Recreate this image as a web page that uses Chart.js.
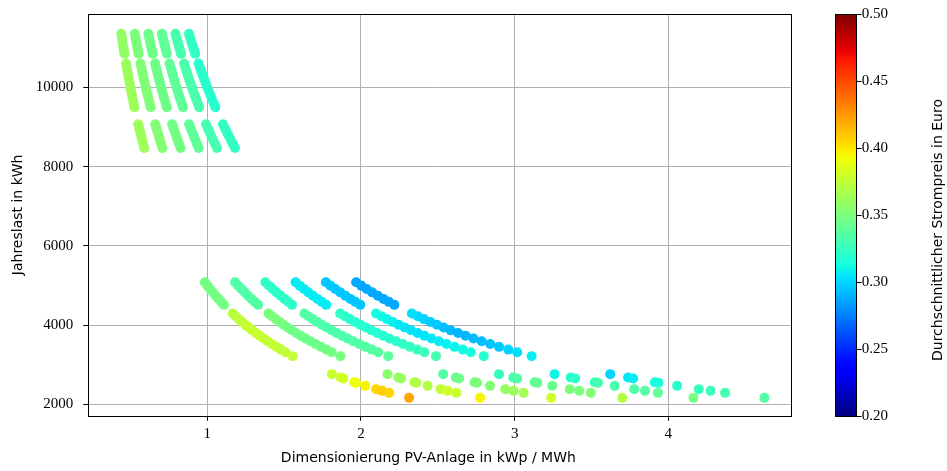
<!DOCTYPE html>
<html><head><meta charset="utf-8">
<script src="https://cdn.jsdelivr.net/npm/chart.js@4.4.1/dist/chart.umd.min.js"></script>
<style>html,body{margin:0;padding:0;background:#fff;}canvas{display:block;}</style>
</head><body>
<canvas id="c" width="947" height="471"></canvas>
<script>
// ---- tick labels ----
const xTicks = [1, 2, 3, 4];
const yTicks = [2000, 4000, 6000, 8000, 10000];
const cbTicks = [0.20, 0.25, 0.30, 0.35, 0.40, 0.45, 0.50];
const xTitle = 'Dimensionierung PV-Anlage in kWp / MWh';
const yTitle = 'Jahreslast in kWh';
const cbTitle = 'Durchschnittlicher Strompreis in Euro';

// ---- top block, row 1 ----
const loadA1 = [11350, 11265, 11180, 11095, 11010, 10930, 10850];
const xA1 = [
  [0.4405, 0.4439, 0.4472, 0.4507, 0.4541, 0.4575, 0.4608],
  [0.5286, 0.5326, 0.5367, 0.5408, 0.5450, 0.5489, 0.5530],
  [0.6168, 0.6214, 0.6262, 0.6309, 0.6358, 0.6404, 0.6452],
  [0.7049, 0.7102, 0.7156, 0.7210, 0.7266, 0.7319, 0.7374],
  [0.7930, 0.7989, 0.8051, 0.8112, 0.8175, 0.8234, 0.8295],
  [0.8811, 0.8877, 0.8945, 0.9013, 0.9083, 0.9149, 0.9217]
];
const priceA1 = [0.358, 0.350, 0.345, 0.340, 0.331, 0.324];

// ---- top block, row 2 ----
const loadA2 = [10600, 10500, 10400, 10300, 10200, 10100, 10000, 9900, 9800, 9700, 9600, 9500];
const xA2 = [
  [0.4717, 0.4762, 0.4808, 0.4854, 0.4902, 0.4950, 0.5000, 0.5051, 0.5102, 0.5155, 0.5208, 0.5263],
  [0.5660, 0.5714, 0.5769, 0.5825, 0.5882, 0.5941, 0.6000, 0.6061, 0.6122, 0.6186, 0.6250, 0.6316],
  [0.6604, 0.6667, 0.6731, 0.6796, 0.6863, 0.6931, 0.7000, 0.7071, 0.7143, 0.7216, 0.7292, 0.7368],
  [0.7547, 0.7619, 0.7692, 0.7767, 0.7843, 0.7921, 0.8000, 0.8081, 0.8163, 0.8247, 0.8333, 0.8421],
  [0.8491, 0.8571, 0.8654, 0.8738, 0.8824, 0.8911, 0.9000, 0.9091, 0.9184, 0.9278, 0.9375, 0.9474],
  [0.9434, 0.9524, 0.9615, 0.9709, 0.9804, 0.9901, 1.0000, 1.0101, 1.0204, 1.0309, 1.0417, 1.0526]
];
const priceA2 = [0.362, 0.352, 0.345, 0.340, 0.332, 0.320];

// ---- top block, row 3 ----
const loadA3 = [9070, 8970, 8870, 8770, 8670, 8570, 8470];
const xA3 = [
  [0.5513, 0.5574, 0.5637, 0.5701, 0.5767, 0.5834, 0.5903],
  [0.6615, 0.6689, 0.6764, 0.6842, 0.6920, 0.7001, 0.7084],
  [0.7718, 0.7804, 0.7892, 0.7982, 0.8074, 0.8168, 0.8264],
  [0.8820, 0.8918, 0.9019, 0.9122, 0.9227, 0.9335, 0.9445],
  [0.9923, 1.0033, 1.0147, 1.0263, 1.0381, 1.0502, 1.0626],
  [1.1025, 1.1148, 1.1274, 1.1403, 1.1534, 1.1669, 1.1806]
];
const priceA3 = [0.362, 0.353, 0.347, 0.340, 0.330, 0.324];

// ---- middle block, upper strokes ----
const loadU = [5080, 4995, 4910, 4825, 4740, 4660, 4585, 4510];
const xU = [
  [0.9843, 1.0010, 1.0183, 1.0363, 1.0549, 1.0730, 1.0905, 1.1086],
  [1.1811, 1.2012, 1.2220, 1.2435, 1.2658, 1.2876, 1.3086, 1.3304],
  [1.3780, 1.4014, 1.4257, 1.4508, 1.4768, 1.5021, 1.5267, 1.5521],
  [1.5748, 1.6016, 1.6293, 1.6580, 1.6878, 1.7167, 1.7448, 1.7738],
  [1.7717, 1.8018, 1.8330, 1.8653, 1.8987, 1.9313, 1.9629, 1.9956],
  [1.9685, 2.0020, 2.0367, 2.0725, 2.1097, 2.1459, 2.1810, 2.2173]
];
const priceU = [0.347, 0.334, 0.322, 0.307, 0.296, 0.287];

// ---- middle block, lower curves ----
const loadM = [4290, 4220, 4150, 4080, 4010, 3940, 3870, 3800, 3730, 3660, 3590, 3520, 3450, 3380, 3315, 3215];
const xM = [
  [1.1655, 1.1848, 1.2048, 1.2255, 1.2469, 1.2690, 1.2920, 1.3158, 1.3405, 1.3661, 1.3928, 1.4205, 1.4493, 1.4793, 1.5083, 1.5552],
  [1.3986, 1.4218, 1.4458, 1.4706, 1.4963, 1.5228, 1.5504, 1.5789, 1.6086, 1.6393, 1.6713, 1.7045, 1.7391, 1.7751, 1.8100, 1.8662],
  [1.6317, 1.6588, 1.6867, 1.7157, 1.7456, 1.7767, 1.8088, 1.8421, 1.8767, 1.9126, 1.9499, 1.9886, 2.0290, 2.0710, 2.1116, 2.1773],
  [1.8648, 1.8957, 1.9277, 1.9608, 1.9950, 2.0305, 2.0672, 2.1053, 2.1448, 2.1858, 2.2284, 2.2727, 2.3189, 2.3669, 2.4133, 2.4883],
  [2.0979, 2.1327, 2.1687, 2.2059, 2.2444, 2.2843, 2.3256, 2.3684, 2.4129, 2.4590, 2.5070, 2.5568, 2.6087, 2.6627, 2.7149, 2.7994],
  [2.3310, 2.3697, 2.4096, 2.4510, 2.4938, 2.5381, 2.5840, 2.6316, 2.6810, 2.7322, 2.7855, 2.8409, 2.8986, 2.9586, 3.0166, 3.1104]
];
const priceM = [
  [0.372, 0.373, 0.374, 0.375, 0.376, 0.377, 0.378, 0.378, 0.378, 0.377, 0.377, 0.376, 0.376, 0.375, 0.375, 0.376],
  [0.350, 0.350, 0.350, 0.349, 0.348, 0.347, 0.346, 0.346, 0.345, 0.345, 0.345, 0.345, 0.346, 0.346, 0.347, 0.348],
  [0.335, 0.335, 0.334, 0.333, 0.333, 0.332, 0.332, 0.332, 0.333, 0.333, 0.334, 0.334, 0.335, 0.336, 0.337, 0.338],
  [0.322, 0.321, 0.320, 0.320, 0.319, 0.318, 0.318, 0.318, 0.319, 0.320, 0.321, 0.322, 0.324, 0.325, 0.327, 0.330],
  [0.312, 0.311, 0.310, 0.308, 0.306, 0.305, 0.304, 0.304, 0.305, 0.306, 0.307, 0.308, 0.310, 0.312, 0.314, 0.318],
  [0.303, 0.302, 0.300, 0.298, 0.296, 0.294, 0.292, 0.291, 0.291, 0.292, 0.293, 0.295, 0.297, 0.300, 0.303, 0.308]
];

// ---- bottom block, single points ----
const loadB = [2761, 2675, 2652, 2556, 2541, 2465, 2382, 2339, 2289, 2162];
const xB = [
  [1.811, 1.869, 1.885, 1.956, 1.968, 2.028, 2.099, 2.138, 2.184, 2.313],
  [2.173, 2.243, 2.262, 2.347, 2.361, 2.434, 2.519, 2.565, 2.621, 2.775],
  [2.535, 2.617, 2.639, 2.739, 2.755, 2.840, 2.939, 2.993, 3.058, 3.238],
  [2.898, 2.991, 3.017, 3.130, 3.148, 3.245, 3.359, 3.420, 3.495, 3.700],
  [3.260, 3.364, 3.394, 3.521, 3.542, 3.651, 3.778, 3.848, 3.932, 4.163],
  [3.622, 3.738, 3.771, 3.912, 3.936, 4.057, 4.198, 4.275, 4.369, 4.625]
];
const priceB = [
  [0.378, 0.381, 0.382, 0.390, 0.391, 0.396, 0.405, 0.408, 0.405, 0.420],
  [0.355, 0.358, 0.360, 0.368, 0.370, 0.370, 0.375, 0.380, 0.378, 0.395],
  [0.335, 0.343, 0.345, 0.350, 0.350, 0.352, 0.360, 0.362, 0.365, 0.380],
  [0.325, 0.330, 0.335, 0.340, 0.342, 0.343, 0.350, 0.350, 0.352, 0.370],
  [0.310, 0.320, 0.322, 0.328, 0.330, 0.332, 0.335, 0.336, 0.340, 0.348],
  [0.300, 0.305, 0.307, 0.313, 0.315, 0.320, 0.325, 0.326, 0.330, 0.335]
];

// ---- jet colormap ----
const CMIN = 0.2, CMAX = 0.5;
function seg(pts, t) {
  for (let i = 1; i < pts.length; i++) {
    if (t <= pts[i][0]) {
      const [t0, v0] = pts[i - 1], [t1, v1] = pts[i];
      return v0 + (v1 - v0) * (t - t0) / (t1 - t0);
    }
  }
  return pts[pts.length - 1][1];
}
const JR = [[0, 0], [0.35, 0], [0.66, 1], [0.89, 1], [1, 0.5]];
const JG = [[0, 0], [0.125, 0], [0.375, 1], [0.64, 1], [0.91, 0], [1, 0]];
const JB = [[0, 0.5], [0.11, 1], [0.34, 1], [0.65, 0], [1, 0]];
function jet(t) {
  t = Math.max(0, Math.min(1, t));
  return 'rgb(' + Math.round(255 * seg(JR, t)) + ',' + Math.round(255 * seg(JG, t)) + ',' + Math.round(255 * seg(JB, t)) + ')';
}
const priceColor = p => jet((p - CMIN) / (CMAX - CMIN));

// ---- assemble points ----
const pts = [], cols = [];
function addStrokes(loads, xs, prices) {
  xs.forEach((row, k) => {
    row.forEach((x, i) => {
      pts.push({x: x, y: loads[i]});
      const p = Array.isArray(prices[k]) ? prices[k][i] : prices[k];
      cols.push(priceColor(p));
    });
  });
}
addStrokes(loadA1, xA1, priceA1);
addStrokes(loadA2, xA2, priceA2);
addStrokes(loadA3, xA3, priceA3);
addStrokes(loadU, xU, priceU);
addStrokes(loadM, xM, priceM);
addStrokes(loadB, xB, priceB);

const SERIF = '"Liberation Serif", "DejaVu Serif", serif';
const SANS = '"DejaVu Sans", sans-serif';

const extras = {
  id: 'extras',
  afterDraw(chart) {
    const {ctx, chartArea: ca} = chart;
    const cb = chart.scales.cb;
    ctx.save();
    ctx.strokeStyle = '#000';
    ctx.lineWidth = 1;
    const L = Math.round(ca.left) + 0.5, T = Math.round(ca.top) + 0.5;
    const R = Math.round(ca.right) + 0.5, B = Math.round(ca.bottom) + 0.5;
    ctx.strokeRect(L, T, R - L, B - T);
    // colour bar
    const x0 = 835, x1 = 856;
    const yTop = Math.round(cb.getPixelForValue(CMAX)), yBot = Math.round(cb.getPixelForValue(CMIN));
    const g = ctx.createLinearGradient(0, yBot, 0, yTop);
    for (let i = 0; i <= 100; i++) g.addColorStop(i / 100, jet(i / 100));
    ctx.fillStyle = g;
    ctx.fillRect(x0, yTop, x1 - x0, yBot - yTop);
    ctx.strokeRect(x0 + 0.5, yTop + 0.5, x1 - x0, yBot - yTop);
    cbTicks.forEach(v => {
      const y = Math.round(cb.getPixelForValue(v)) + 0.5;
      ctx.beginPath(); ctx.moveTo(x1 + 0.5, y); ctx.lineTo(x1 + 5.5, y); ctx.stroke();
    });
    ctx.translate(938, 230);
    ctx.rotate(-Math.PI / 2);
    ctx.fillStyle = '#000';
    ctx.font = '14px ' + SANS;
    ctx.textAlign = 'center';
    ctx.textBaseline = 'middle';
    ctx.fillText(cbTitle, 0, 0);
    ctx.restore();
  }
};

const gridOpts = {color: '#b0b0b0', lineWidth: 1, tickColor: '#000', tickLength: 5, tickWidth: 1};

new Chart(document.getElementById('c'), {
  type: 'scatter',
  data: {datasets: [{
    data: pts,
    backgroundColor: cols,
    borderColor: cols,
    borderWidth: 0,
    pointRadius: 5,
    pointHoverRadius: 5
  }]},
  options: {
    responsive: false,
    animation: false,
    events: [],
    layout: {padding: {top: 14, left: 0, right: 0, bottom: 0}},
    plugins: {legend: {display: false}, tooltip: {enabled: false}},
    scales: {
      x: {
        type: 'linear', min: 0.226, max: 4.796,
        afterBuildTicks: s => { s.ticks = xTicks.map(v => ({value: v})); },
        afterFit: s => { s.height = 55.3; },
        grid: gridOpts,
        border: {display: false},
        ticks: {font: {family: SERIF, size: 15}, color: '#000', padding: 4, maxRotation: 0, autoSkip: false,
                callback: v => String(v)},
        title: {display: true, text: xTitle + '     ', font: {family: SANS, size: 14}, color: '#000', padding: {top: 0, bottom: 4}}
      },
      y: {
        type: 'linear', min: 1712, max: 11851,
        afterBuildTicks: s => { s.ticks = yTicks.map(v => ({value: v})); },
        afterFit: s => { s.width = 88.3; s.paddingTop = 0; s.paddingBottom = 0; },
        grid: gridOpts,
        border: {display: false},
        ticks: {font: {family: SERIF, size: 15}, color: '#000', padding: 10, autoSkip: false,
                callback: v => String(v)},
        title: {display: true, text: yTitle, font: {family: SANS, size: 14}, color: '#000', padding: {top: 10, bottom: 0}}
      },
      cb: {
        type: 'linear', position: 'right', min: CMIN, max: CMAX,
        afterBuildTicks: s => { s.ticks = cbTicks.map(v => ({value: v})); },
        afterFit: s => { s.width = 947 - 790.7; s.paddingTop = 0; s.paddingBottom = 0; },
        grid: {display: false, drawTicks: false, tickLength: 0},
        border: {display: false},
        ticks: {font: {family: SERIF, size: 15}, color: '#000', padding: 71, autoSkip: false,
                callback: v => Number(v).toFixed(2)}
      }
    }
  },
  plugins: [extras]
});
</script>
</body></html>
